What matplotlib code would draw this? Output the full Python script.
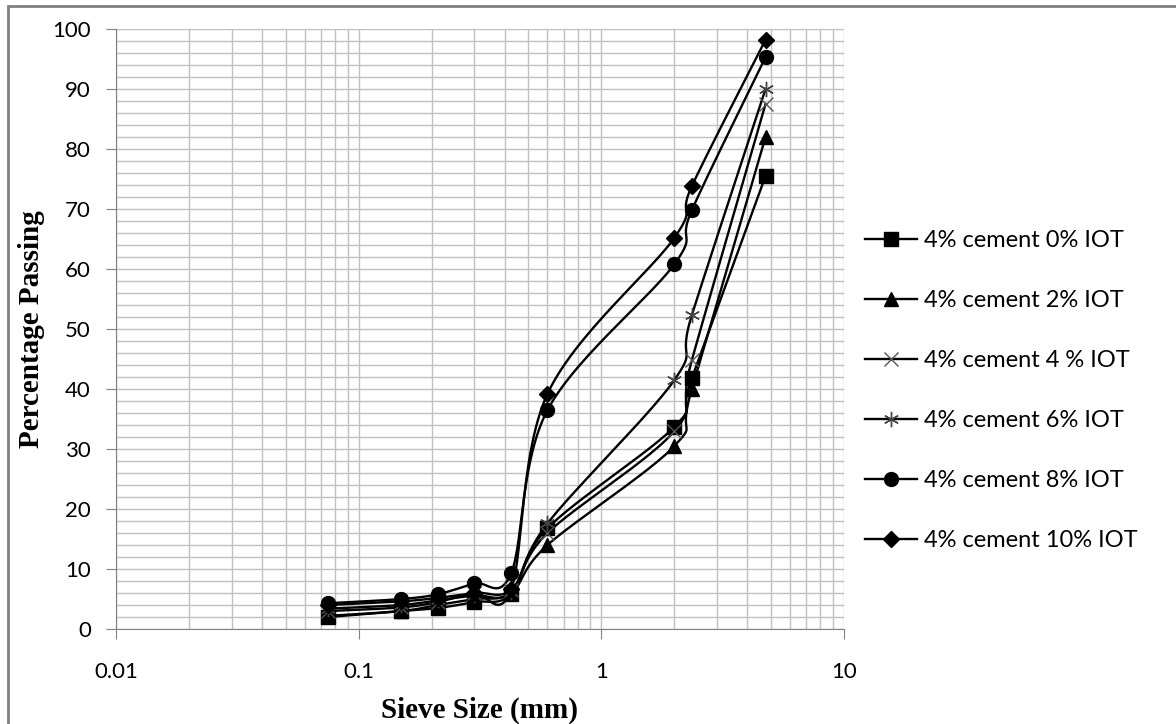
import numpy as np
import matplotlib.pyplot as plt
from matplotlib.patches import Rectangle
from matplotlib.ticker import FixedLocator, NullFormatter, MultipleLocator

# sieve sizes (mm)
sieve = [0.075, 0.15, 0.212, 0.3, 0.425, 0.6, 2.0, 2.36, 4.75]

# percentage passing for each mix
iot_0 = [2.0, 3.0, 3.5, 4.5, 5.8, 16.8, 33.7, 41.8, 75.5]
iot_2 = [2.2, 3.0, 4.0, 5.0, 6.0, 14.0, 30.5, 40.0, 82.0]
iot_4 = [3.0, 3.6, 4.5, 6.0, 6.5, 16.0, 33.0, 44.8, 87.5]
iot_6 = [3.4, 4.0, 4.8, 5.6, 6.2, 17.6, 41.5, 52.3, 90.0]
iot_8 = [4.3, 5.0, 5.8, 7.6, 9.3, 36.5, 60.8, 69.8, 95.3]
iot_10 = [4.0, 4.6, 5.2, 6.0, 6.6, 39.2, 65.2, 73.8, 98.2]

labels = ["4% cement 0% IOT", "4% cement 2% IOT", "4% cement 4 % IOT",
          "4% cement 6% IOT", "4% cement 8% IOT", "4% cement 10% IOT"]


# smooth line through the points (Excel style), done in log-x space
def smooth(xs, ys, n=30, t=0.5):
    lx = np.log10(xs)
    ys = np.asarray(ys, float)
    px, py = [], []
    for i in range(len(lx) - 1):
        x0, x1 = lx[max(i - 1, 0)], lx[i]
        x2, x3 = lx[i + 1], lx[min(i + 2, len(lx) - 1)]
        y0, y1 = ys[max(i - 1, 0)], ys[i]
        y2, y3 = ys[i + 1], ys[min(i + 2, len(ys) - 1)]
        c1x, c1y = x1 + (x2 - x0) * t / 3, y1 + (y2 - y0) * t / 3
        c2x, c2y = x2 - (x3 - x1) * t / 3, y2 - (y3 - y1) * t / 3
        s = np.linspace(0, 1, n)
        bx = (1-s)**3*x1 + 3*(1-s)**2*s*c1x + 3*(1-s)*s**2*c2x + s**3*x2
        by = (1-s)**3*y1 + 3*(1-s)**2*s*c1y + 3*(1-s)*s**2*c2y + s**3*y2
        px.extend(bx)
        py.extend(by)
    return 10 ** np.array(px), np.array(py)


fig = plt.figure(figsize=(11.76, 7.24), dpi=100)
ax = fig.add_axes([0.0986, 0.1312, 0.6191, 0.8288])

series = [iot_0, iot_2, iot_4, iot_6, iot_8, iot_10]
styles = [
    dict(marker="s", markersize=10, mfc="black", mec="black"),
    dict(marker="^", markersize=10, mfc="black", mec="black"),
    dict(marker="x", markersize=10, mec="#555555", mew=1.0),
    dict(marker=(6, 2, 0), markersize=11, mec="#444444", mew=1.0),
    dict(marker="o", markersize=10, mfc="black", mec="black"),
    dict(marker="D", markersize=8, mfc="black", mec="black"),
]

for vals, lab, st in zip(series, labels, styles):
    sx, sy = smooth(sieve, vals)
    ax.plot(sx, sy, color="black", lw=1.7, zorder=3)
    ax.plot(sieve, vals, linestyle="none", zorder=4, **st)
    ax.plot([], [], color="black", lw=1.7, label=lab, **st)

ax.set_xscale("log")
ax.set_xlim(0.01, 10)
ax.set_ylim(0, 100)
ax.yaxis.set_major_locator(MultipleLocator(10))
ax.yaxis.set_minor_locator(MultipleLocator(2))
ax.xaxis.set_major_locator(FixedLocator([0.01, 0.1, 1, 10]))
ax.set_xticklabels(["0.01", "0.1", "1", "10"])
minors = [m * 10.0 ** e for e in (-2, -1, 0) for m in range(2, 10)]
ax.xaxis.set_minor_locator(FixedLocator(minors))
ax.xaxis.set_minor_formatter(NullFormatter())

ax.grid(True, which="both", color="#c0c0c0", lw=1.0, zorder=0)
for side in ["top", "right"]:
    ax.spines[side].set_visible(False)
ax.spines["left"].set_color("#808080")
ax.spines["bottom"].set_color("#808080")
ax.tick_params(which="major", direction="out", length=7, color="#808080",
               labelsize=16, labelfontfamily="Lato")
ax.tick_params(axis="y", which="major", pad=11)
ax.tick_params(axis="x", which="major", pad=17)
ax.tick_params(which="minor", length=0)

ax.set_xlabel("Sieve Size (mm)", fontsize=21, fontweight="bold",
              family="Liberation Serif")
ax.set_ylabel("Percentage Passing", fontsize=21, fontweight="bold",
              family="Liberation Serif")
ax.xaxis.set_label_coords(0.5, -0.112)
ax.yaxis.set_label_coords(-0.0975, 0.5)

ax.legend(loc="center left", bbox_to_anchor=(1.0, 0.397), frameon=False,
          prop={"family": "Lato", "size": 17}, handlelength=2.2,
          labelspacing=1.65, handletextpad=0.3)

fig.patches.append(Rectangle((8 / 1176, -0.05), 1.2, 1.05 - 6 / 724,
                             transform=fig.transFigure, fill=False,
                             edgecolor="#808080", lw=2, clip_on=False))

fig.savefig("out.png", dpi=100)
